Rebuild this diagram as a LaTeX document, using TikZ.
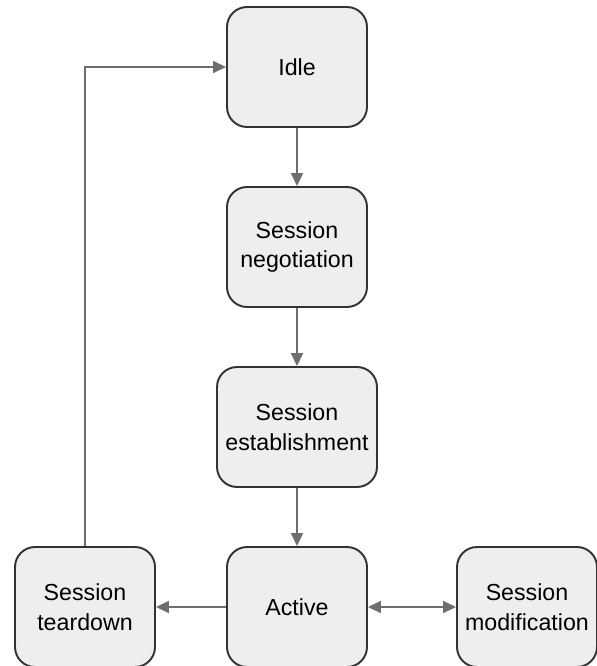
\documentclass[tikz,border=0pt]{standalone}
\usepackage{fontspec}
\setmainfont{Liberation Sans}
\usetikzlibrary{arrows.meta}
\definecolor{boxfill}{HTML}{EEEEEE}
\definecolor{boxline}{HTML}{333333}
\definecolor{linkgray}{HTML}{6E6E6E}
\begin{document}
\begin{tikzpicture}[x = .02cm, y = -.02cm,
    state/.style = {draw = boxline, fill = boxfill, line width = 1.1pt,
      rounded corners = .4cm, minimum width = 2.8cm, minimum height = 2.4cm,
      align = center, inner sep = 0pt,
      font = \fontsize{13.2}{17}\selectfont},
    link/.style = {draw = linkgray, line width = 1pt,
      -{Triangle[length = .26cm, width = .24cm]}}]
  \useasboundingbox (0,0) rectangle (597,666);
  \node [state] (idle) at (297,67) {Idle};
  \node [state] (nego) at (297,247) {Session\\negotiation};
  \node [state, minimum width = 3.2cm] (estab) at (297,427) {Session\\establishment};
  \node [state] (active) at (297,607) {Active};
  \node [state] (tear) at (85,607) {Session\\teardown};
  \node [state] (modif) at (527,607) {Session\\modification};
  \draw [link] (idle) -- (nego);
  \draw [link] (nego) -- (estab);
  \draw [link] (estab) -- (active);
  \draw [link] (active) -- (tear);
  \draw [link, {Triangle[length = .26cm, width = .24cm]}-{Triangle[length = .26cm, width = .24cm]}]
    (active) -- (modif);
  \draw [link] (tear.north) |- (idle.west);
\end{tikzpicture}
\end{document}
